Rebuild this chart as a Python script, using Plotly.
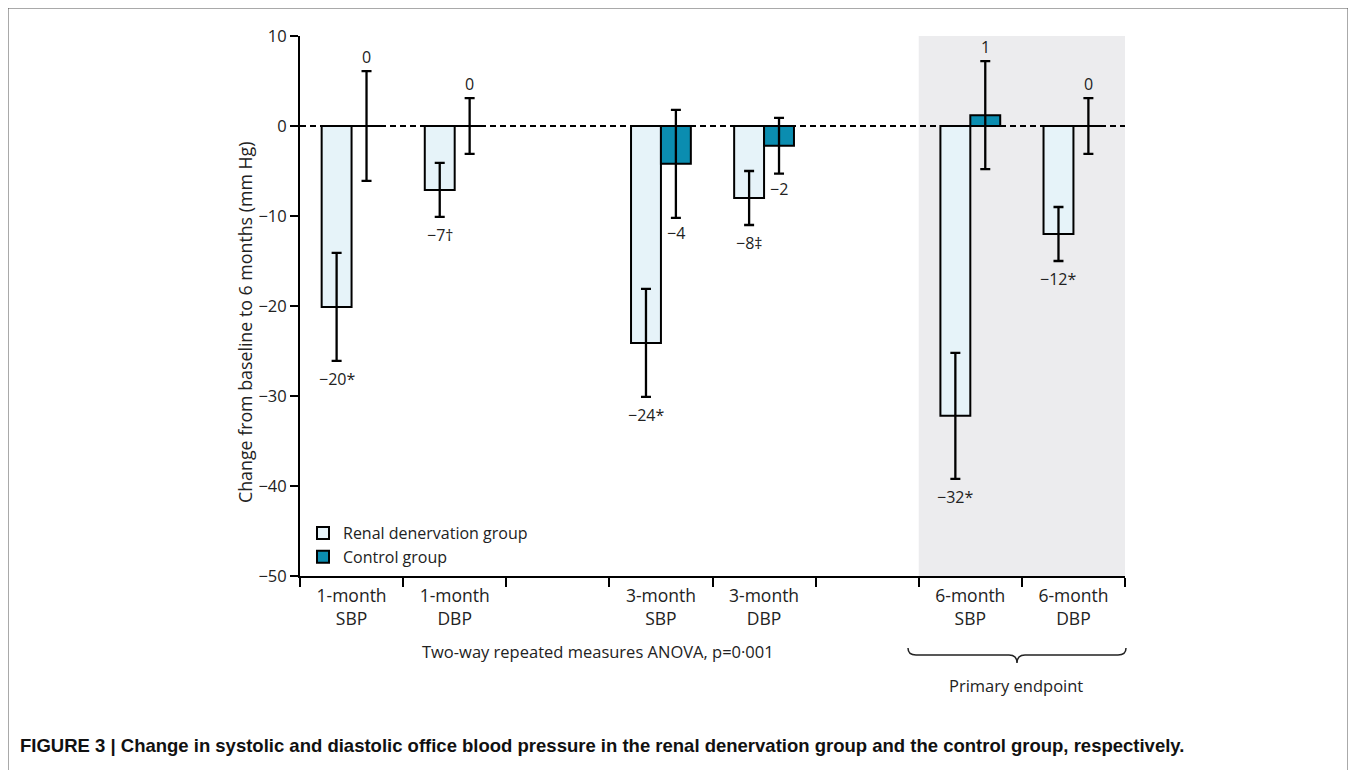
import plotly.graph_objects as go

# ---------------- data ----------------
categories = ["1-month<br>SBP", "1-month<br>DBP", "3-month<br>SBP", "3-month<br>DBP", "6-month<br>SBP", "6-month<br>DBP"]
slot_pos = [0.5, 1.5, 3.5, 4.5, 6.5, 7.5]  # slots 2 and 5 are empty spacers
renal_values = [-20.1, -7.1, -24.1, -8.0, -32.2, -12.0]
renal_err = [6.0, 3.0, 6.0, 3.0, 7.0, 3.0]
renal_labels = ["−20*", "−7†", "−24*", "−8‡", "−32*", "−12*"]
control_values = [0, 0, -4.2, -2.2, 1.2, 0]
control_err = [6.1, 3.1, 6.0, 3.1, 6.0, 3.1]
control_labels = ["0", "0", "−4", "−2", "1", "0"]
y_ticks = [10, 0, -10, -20, -30, -40, -50]

# ---------------- layout constants ----------------
OFF = 8                      # page body margin
W, H = 1356 - OFF, 770 - OFF
L, T = 300 - OFF, 36 - OFF   # plot area left/top in figure px
R = W - (1125 - OFF)
B = H - (576 - OFF)
PW, PH = W - L - R, H - T - B
FONT = "Open Sans"
TXT = "#222222"
RENAL_FILL = "#e6f3f9"
CONTROL_FILL = "#0b8db0"


def px(xp):
    """page x pixel -> paper coordinate"""
    return (xp - OFF - L) / PW


def py(yp):
    """page y pixel -> paper coordinate"""
    return (H - B - (yp - OFF)) / PH


fig = go.Figure()

fig.add_trace(go.Bar(
    name="Renal denervation group", x=slot_pos, y=renal_values,
    marker=dict(color=RENAL_FILL, line=dict(color="black", width=2)),
    error_y=dict(type="data", array=renal_err, visible=True, color="black", thickness=2.3, width=5),
))
fig.add_trace(go.Bar(
    name="Control group", x=slot_pos, y=control_values,
    marker=dict(color=CONTROL_FILL, line=dict(color="black", width=2)),
    error_y=dict(type="data", array=control_err, visible=True, color="black", thickness=2.3, width=5),
))

annotations = []
bw = 0.29
for xpos, v, e, lab in zip(slot_pos, renal_values, renal_err, renal_labels):
    annotations.append(dict(x=xpos - bw / 2, y=v - e, xref="x", yref="y", text=lab, showarrow=False,
                            xanchor="center", yanchor="middle",
                            yshift=-18, font=dict(family=FONT, size=16, color=TXT)))
for xpos, v, e, lab in zip(slot_pos, control_values, control_err, control_labels):
    if v >= 0:
        yy, sh = v + e, 14
    else:
        yy, sh = v - e, -15
    annotations.append(dict(x=xpos + bw / 2, y=yy, xref="x", yref="y", text=lab, showarrow=False,
                            xanchor="center", yanchor="middle",
                            yshift=sh, font=dict(family=FONT, size=16, color=TXT)))

annotations.append(dict(x=px(245), y=py(322), xref="paper", yref="paper",
                        text="Change from baseline to 6 months (mm Hg)", textangle=-90, showarrow=False,
                        xanchor="center", yanchor="middle", font=dict(family=FONT, size=17.8, color=TXT)))
annotations.append(dict(x=px(598), y=py(651), xref="paper", yref="paper",
                        text="Two-way repeated measures ANOVA, p=0·001", showarrow=False,
                        xanchor="center", yanchor="middle", font=dict(family=FONT, size=16.5, color=TXT)))
annotations.append(dict(x=px(1016), y=py(685), xref="paper", yref="paper",
                        text="Primary endpoint", showarrow=False,
                        xanchor="center", yanchor="middle", font=dict(family=FONT, size=16.5, color=TXT)))
annotations.append(dict(x=px(18), y=py(745), xref="paper", yref="paper", xanchor="left", yanchor="middle",
                        text="<b>FIGURE 3 | Change in systolic and diastolic office blood pressure in the renal denervation group and the control group, respectively.</b>",
                        showarrow=False, font=dict(family="Liberation Sans", size=18.5, color="#111111")))

shapes = [
    dict(type="rect", xref="x", yref="y", x0=6, x1=8, y0=-50, y1=10, fillcolor="#ececee",
         line=dict(width=0), layer="below"),
    dict(type="line", xref="paper", yref="y", x0=0, x1=1, y0=0, y1=0,
         line=dict(color="black", width=2, dash="6px,4px"), layer="above"),
    dict(type="rect", xref="paper", yref="paper", x0=px(8), x1=px(1348), y0=py(8), y1=py(790),
         line=dict(color="#555555", width=1)),
]
# curly brace under the primary endpoint
bx0, bx1, bm, by0, by1, byp = 908, 1126, 1017, 648, 655, 663
path = (f"M {px(bx0)},{py(by0)} Q {px(bx0)},{py(by1)} {px(bx0+8)},{py(by1)} "
        f"L {px(bm-8)},{py(by1)} Q {px(bm)},{py(by1)} {px(bm)},{py(byp)} "
        f"Q {px(bm)},{py(by1)} {px(bm+8)},{py(by1)} L {px(bx1-8)},{py(by1)} "
        f"Q {px(bx1)},{py(by1)} {px(bx1)},{py(by0)}")
shapes.append(dict(type="path", xref="paper", yref="paper", path=path, line=dict(color="#222222", width=1.5)))

fig.update_layout(
    width=W, height=H, margin=dict(l=L, r=R, t=T, b=B, pad=0),
    paper_bgcolor="white", plot_bgcolor="rgba(0,0,0,0)",
    barmode="group", bargap=0.42, bargroupgap=0,
    font=dict(family=FONT, size=16, color=TXT),
    showlegend=True,
    legend=dict(x=px(303), y=py(516), xanchor="left", yanchor="top", bgcolor="rgba(0,0,0,0)",
                font=dict(family=FONT, size=16, color=TXT), tracegroupgap=0, itemwidth=30,
                traceorder="normal"),
    annotations=annotations, shapes=shapes,
    xaxis=dict(range=[0, 8], tickmode="array", tickvals=slot_pos, ticktext=categories,
               ticks="", showline=True, linecolor="black", linewidth=2, showgrid=False, zeroline=False,
               ticklabelstandoff=3,
               tickfont=dict(family=FONT, size=17.5, color=TXT),
               minor=dict(tickmode="linear", tick0=0, dtick=1, ticks="outside", ticklen=9,
                          tickwidth=2, tickcolor="black", showgrid=False)),
    yaxis=dict(range=[-50, 10], tickmode="array", tickvals=y_ticks, ticks="outside", ticklen=8,
               tickwidth=2, tickcolor="black", showline=True, linecolor="black", linewidth=2,
               showgrid=False, zeroline=False, tickfont=dict(family=FONT, size=16.5, color=TXT)),
)

fig.write_html("out.html")
